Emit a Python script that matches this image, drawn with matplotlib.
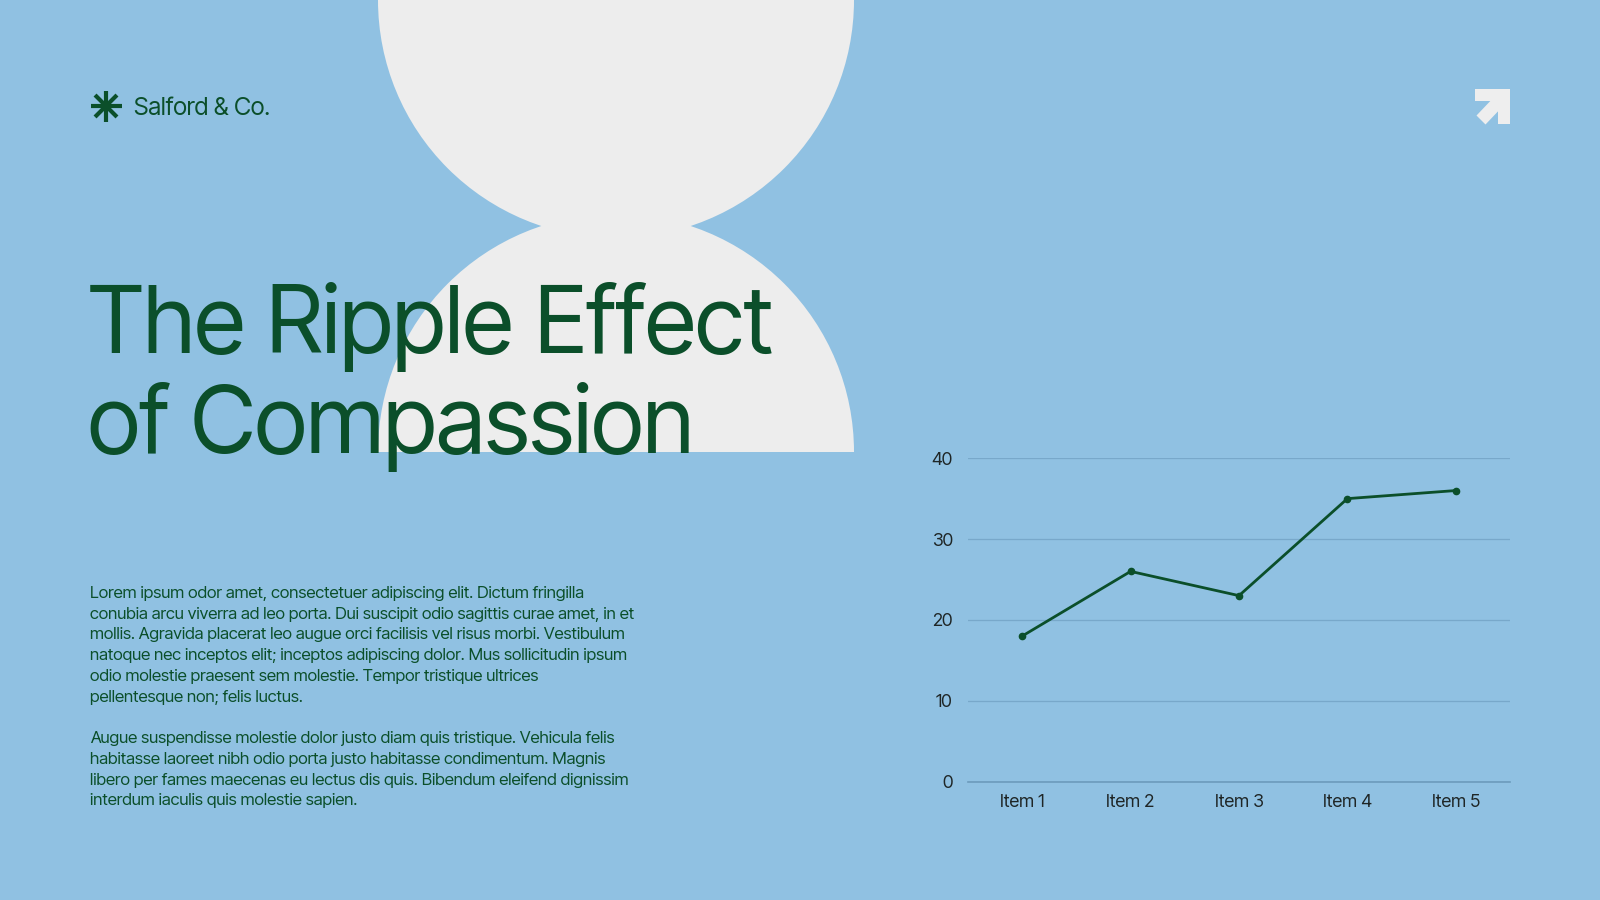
import math
import matplotlib
matplotlib.use("Agg")
import matplotlib.pyplot as plt
from matplotlib.patches import Circle, Wedge, Polygon

# ---------------- data ----------------
categories = ["Item 1", "Item 2", "Item 3", "Item 4", "Item 5"]
values = [18, 26, 23, 35, 36]
y_ticks = [0, 10, 20, 30, 40]

brand = "Salford & Co."
title_lines = ["The Ripple Effect", "of Compassion"]
para1 = [
    "Lorem ipsum odor amet, consectetuer adipiscing elit. Dictum fringilla",
    "conubia arcu viverra ad leo porta. Dui suscipit odio sagittis curae amet, in et",
    "mollis. Agravida placerat leo augue orci facilisis vel risus morbi. Vestibulum",
    "natoque nec inceptos elit; inceptos adipiscing dolor. Mus sollicitudin ipsum",
    "odio molestie praesent sem molestie. Tempor tristique ultrices",
    "pellentesque non; felis luctus.",
]
para2 = [
    "Augue suspendisse molestie dolor justo diam quis tristique. Vehicula felis",
    "habitasse laoreet nibh odio porta justo habitasse condimentum. Magnis",
    "libero per fames maecenas eu lectus dis quis. Bibendum eleifend dignissim",
    "interdum iaculis quis molestie sapien.",
]

# ---------------- style ----------------
BG = "#90C1E2"
SHAPE = "#EDEDED"
GREEN = "#0B4F2A"
GRID = "#78A8CA"
AXIS = "#6C9BBC"
LABEL = "#1F2626"
FONT = ["Inter Tight", "Inter", "DejaVu Sans"]

W, H = 1600, 900
fig = plt.figure(figsize=(16, 9), dpi=100, facecolor=BG)

# background layer in pixel coordinates (y down)
bg = fig.add_axes([0, 0, 1, 1], zorder=0)
bg.set_xlim(0, W)
bg.set_ylim(H, 0)
bg.axis("off")
bg.set_facecolor(BG)

# decorative hourglass shape
cx, r = 616, 238
bg.add_patch(Circle((cx, 0), r, facecolor=SHAPE, edgecolor="none", zorder=1))
bg.add_patch(Wedge((cx, 452), r, 180, 360, facecolor=SHAPE, edgecolor="none", zorder=1))

# logo asterisk
acx, acy, ar = 106, 106, 15.5
for ang in (0, 45, 90, 135):
    dx = ar * math.cos(math.radians(ang))
    dy = ar * math.sin(math.radians(ang))
    bg.plot([acx - dx, acx + dx], [acy - dy, acy + dy], color=GREEN, lw=3.0,
            solid_capstyle="butt", zorder=3)
bg.text(134, 115, brand, color=GREEN, fontsize=17.6, family=FONT, ha="left",
        va="baseline", zorder=3)

# arrow icon (top right)
ARW = "#EEEEEE"
bg.add_patch(Polygon([(1475, 89), (1510, 89), (1510, 124), (1498, 124), (1498, 101), (1475, 101)],
                     closed=True, facecolor=ARW, edgecolor="none", zorder=3))
bg.add_patch(Polygon([(1505.5, 103.5), (1496.5, 94.5), (1476.5, 115.5), (1485.5, 124.5)],
                     closed=True, facecolor=ARW, edgecolor="none", zorder=3))

# title
tsize = 67.5
bg.text(88, 353, title_lines[0], color=GREEN, fontsize=tsize, family=FONT,
        ha="left", va="baseline", zorder=4)
bg.text(88, 453, title_lines[1], color=GREEN, fontsize=tsize, family=FONT,
        ha="left", va="baseline", zorder=4)

# body text
bsize = 12.2
pitch = 20.75
y0 = 598
for i, line in enumerate(para1):
    bg.text(90, y0 + i * pitch, line, color=GREEN, fontsize=bsize, family=FONT,
            ha="left", va="baseline", zorder=4)
y1 = y0 + (len(para1) + 1) * pitch
for i, line in enumerate(para2):
    bg.text(90, y1 + i * pitch, line, color=GREEN, fontsize=bsize, family=FONT,
            ha="left", va="baseline", zorder=4)

# ---------------- line chart ----------------
left_px, right_px, top_px, bot_px = 968, 1510, 458.2, 781.6
ax = fig.add_axes([left_px / W, 1 - bot_px / H, (right_px - left_px) / W, (bot_px - top_px) / H],
                  zorder=5)
ax.patch.set_alpha(0)
x = list(range(len(categories)))
ax.plot(x, values, color=GREEN, lw=2.0, marker="o", markersize=4.5, zorder=3)
ax.set_xlim(-0.5, len(categories) - 0.5)
ax.set_ylim(0, 40)
ax.set_yticks(y_ticks)
ax.set_xticks(x)
ax.set_xticklabels(categories)
for s in ("top", "right", "left"):
    ax.spines[s].set_visible(False)
ax.spines["bottom"].set_color(AXIS)
ax.spines["bottom"].set_linewidth(1.2)
ax.grid(axis="y", color=GRID, lw=0.9)
ax.set_axisbelow(True)
ax.tick_params(axis="both", length=0, labelsize=13, labelcolor=LABEL)
ax.tick_params(axis="y", pad=11)
ax.tick_params(axis="x", pad=9)
for lab in ax.get_xticklabels() + ax.get_yticklabels():
    lab.set_family(FONT)

fig.savefig("out.png", dpi=100, facecolor=BG)
